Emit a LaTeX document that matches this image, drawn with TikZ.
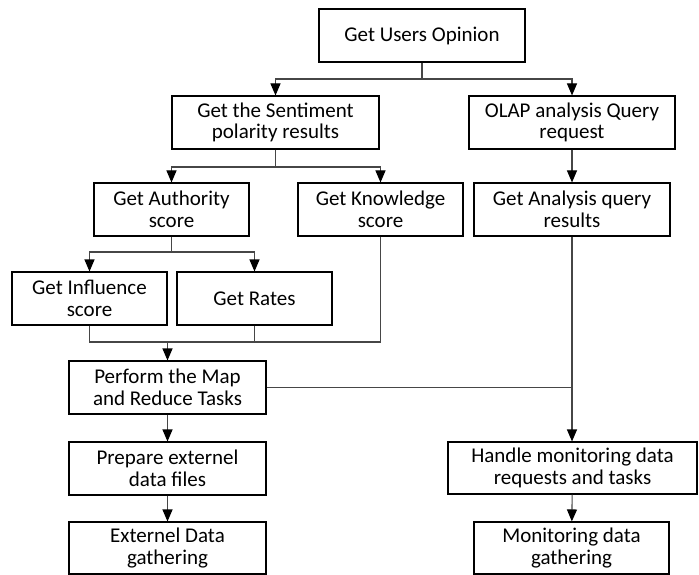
\documentclass[tikz,border=0pt]{standalone}
\usepackage{fontspec}
\setmainfont{Carlito}
\usetikzlibrary{arrows.meta}
\definecolor{wire}{RGB}{70,70,70}
\begin{document}
\begin{tikzpicture}[x=1pt,y=-1pt,
  box/.style={draw=black,line width=1.1pt,fill=white,align=center,inner sep=0pt,
    minimum height=53pt,font=\fontsize{21}{21.7}\selectfont},
  wire/.style={draw=wire,line width=1.1pt},
  arr/.style={wire,-{Triangle[width=10pt,length=12pt,black]}}]
\useasboundingbox (0,0) rectangle (699,575);

% process boxes
\node[box,minimum width=206pt] (users)  at (422,35.5)   {Get Users Opinion};
\node[box,minimum width=207pt] (senti)  at (275.5,122.5){Get the Sentiment\\polarity results};
\node[box,minimum width=206pt] (olap)   at (572,122.5)  {OLAP analysis Query\\request};
\node[box,minimum width=155pt] (auth)   at (171.5,209.5){Get Authority\\score};
\node[box,minimum width=165pt] (know)   at (380.5,209.5){Get Knowledge\\score};
\node[box,minimum width=196pt] (anal)   at (572,209.5)  {Get Analysis query\\results};
\node[box,minimum width=155pt] (infl)   at (89.5,298.5) {Get Influence\\score};
\node[box,minimum width=155pt] (rates)  at (254.5,298.5){Get Rates};
\node[box,minimum width=197pt] (map)    at (167.5,387.5){Perform the Map\\and Reduce Tasks};
\node[box,minimum width=197pt] (prep)   at (167.5,468.5){Prepare externel\\data files};
\node[box,minimum width=197pt,minimum height=52pt] (ext) at (167.5,548) {Externel Data\\gathering};
\node[box,minimum width=249pt,minimum height=52pt] (handle) at (572.5,468) {Handle monitoring data\\requests and tasks};
\node[box,minimum width=195pt,minimum height=52pt] (monit)  at (571.5,548) {Monitoring data\\gathering};

% branching points
\coordinate (j1) at (422,79);
\coordinate (j2) at (275.5,167);
\coordinate (j3) at (171.5,252);
\coordinate (j4) at (167.5,342);

% connectors
\draw[wire] (users) -- (j1);
\draw[arr] (j1) -| (senti);
\draw[arr] (j1) -| (olap);

\draw[wire] (senti) -- (j2);
\draw[arr] (j2) -| (auth);
\draw[arr] (j2) -| (know);

\draw[arr] (olap) -- (anal);

\draw[wire] (auth) -- (j3);
\draw[arr] (j3) -| (infl);
\draw[arr] (j3) -| (rates);

\draw[wire] (infl) |- (j4);
\draw[wire] (rates) |- (j4);
\draw[wire] (know) |- (j4);
\draw[arr] (j4) -- (map);

\draw[arr] (anal.south) -- (anal.south |- handle.north);
\draw[wire] (map.east) -- (map.east -| anal.south);

\draw[arr] (map) -- (prep);
\draw[arr] (prep) -- (ext);
\draw[arr] (handle) -- (monit);
\end{tikzpicture}
\end{document}
